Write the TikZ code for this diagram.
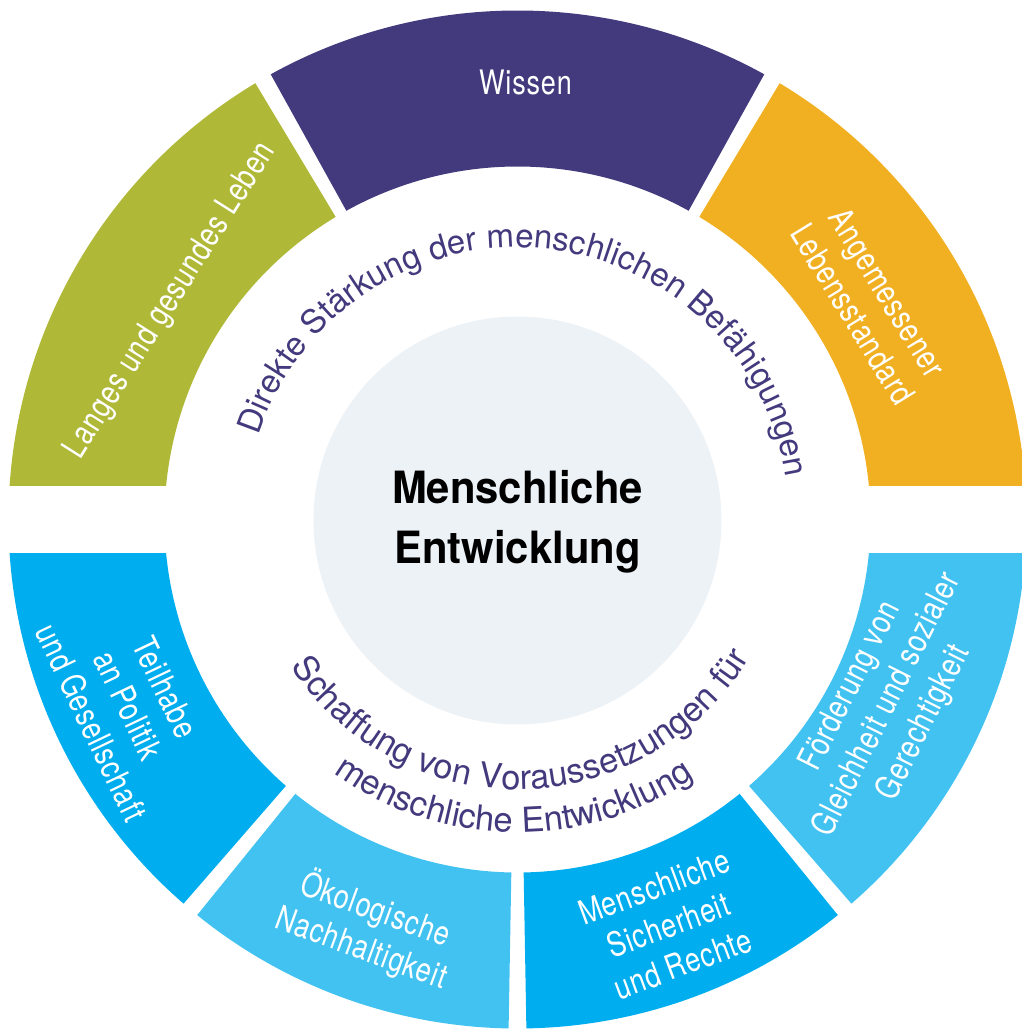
\documentclass[tikz,border=0pt]{standalone}
\usepackage{fontspec}
\setmainfont{TeX Gyre Heros}
\newfontfamily\narrowfont{TeX Gyre Heros}[FakeStretch=0.80, LetterSpace=2.5]
\newfontfamily\titlefont{TeX Gyre Heros}[FakeStretch=0.94]
\usepackage{tikz}
\usetikzlibrary{decorations.text}
\definecolor{leben}{HTML}{AFB937}
\definecolor{wissen}{HTML}{433A7D}
\definecolor{standard}{HTML}{F0B022}
\definecolor{deepblue}{HTML}{00AEEF}
\definecolor{lightblue}{HTML}{42C2F1}
\definecolor{core}{HTML}{EDF2F6}

\begin{document}
\begin{tikzpicture}[
      x=0.02cm, y=0.02cm,
      seg/.style={align=center, text=white, inner sep=0pt, font=\narrowfont\fontsize{19.2}{23.3}\selectfont},
      title/.style={align=center, inner sep=0pt, font=\titlefont\bfseries\fontsize{25.3}{33.8}\selectfont},
      arctext/.style 2 args={decorate, decoration={text along path, text align=center, text color=wissen, text={|\fontsize{#1}{#1}\selectfont|#2}}}
  ]
    \useasboundingbox (-517.5,-509.5) rectangle (504.5,519.5);
    % ring, upper half
    \fill[leben] (121:509) arc[start angle=121, end angle=180, radius=509] -- (180:353) arc[start angle=180, end angle=121, radius=353] -- cycle;
    \fill[wissen] (61:509) arc[start angle=61, end angle=119, radius=509] -- (119:353) arc[start angle=119, end angle=61, radius=353] -- cycle;
    \fill[standard] (0:509) arc[start angle=0, end angle=59, radius=509] -- (59:353) arc[start angle=59, end angle=0, radius=353] -- cycle;
    % ring, lower half
    \fill[deepblue] (180:509) arc[start angle=180, end angle=229, radius=509] -- (229:353) arc[start angle=229, end angle=180, radius=353] -- cycle;
    \fill[lightblue] (231:509) arc[start angle=231, end angle=269, radius=509] -- (269:353) arc[start angle=269, end angle=231, radius=353] -- cycle;
    \fill[deepblue] (271:509) arc[start angle=271, end angle=309, radius=509] -- (309:353) arc[start angle=309, end angle=271, radius=353] -- cycle;
    \fill[lightblue] (311:509) arc[start angle=311, end angle=360, radius=509] -- (360:353) arc[start angle=360, end angle=311, radius=353] -- cycle;
    \fill[white] (-520,-33.5) rectangle (520,33.5);
    \fill[core] (0,-1) circle[radius=204];

    \node[title] (core) at (0,-2.4) {Menschliche\\Entwicklung};

    \node[seg, anchor=base] (wissen) at (8,425.2) {Wissen};
    \node[seg, rotate=57.75] (leben) at (147.75:410) {Langes und gesundes Leben};
    \node[seg, rotate=-58.5] (standard) at (31.5:414) {Angemessener\\Lebensstandard};
    \node[seg, rotate=-64.5] (teilhabe) at (205.5:431) {Teilhabe\\an Politik\\und Gesellschaft};
    \node[seg, rotate=-20] (umwelt) at (250:435) {Ökologische\\Nachhaltigkeit};
    \node[seg, rotate=20.4] (sicherheit) at (290.4:433) {Menschliche\\Sicherheit\\und Rechte};
    \node[seg, rotate=63.4] (gleichheit) at (333.4:414) {Förderung von\\Gleichheit und sozialer\\Gerechtigkeit};

    % curved captions
    \path[arctext={18.8}{Direkte Stärkung der menschlichen Befähigungen}] (175.5:272) arc[start angle=175.5, end angle=-4.5, radius=272];
    \path[arctext={19.6}{Schaffung von Voraussetzungen für}] (181:270) arc[start angle=181, end angle=361, radius=270];
    \path[arctext={19.6}{menschliche Entwicklung}] (179.3:313) arc[start angle=179.3, end angle=359.3, radius=313];
  \end{tikzpicture}
\end{document}
